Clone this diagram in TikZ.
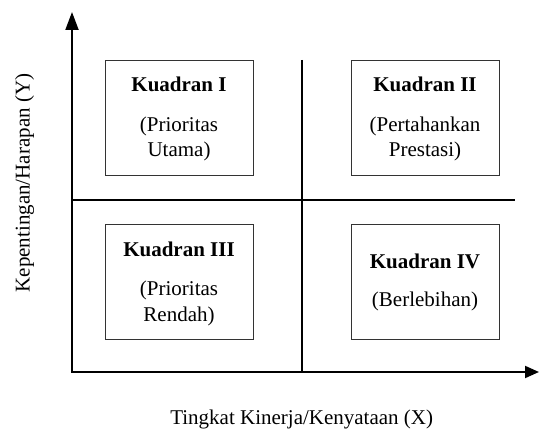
\documentclass[tikz,border=0pt]{standalone}
\usepackage{fontspec}
\setmainfont{Liberation Serif}
\usetikzlibrary{arrows.meta}
\begin{document}
\begin{tikzpicture}[x=1pt,y=-1pt,
  quadbox/.style={draw=black!80, line width=0.9pt, minimum width=148pt, minimum height=115pt, inner sep=0pt, anchor=north west},
  qtitle/.style={anchor=base, font=\fontsize{21}{25}\selectfont\bfseries, inner sep=0pt},
  qtext/.style={anchor=base, font=\fontsize{21}{25}\selectfont, inner sep=0pt},
  axes/.style={line width=2pt, {Triangle[length=18pt,width=13pt]}-{Triangle[length=14pt,width=12pt]}},
  divider/.style={line width=2pt},
  axlabel/.style={font=\fontsize{21}{25}\selectfont, inner sep=0pt}]
\useasboundingbox (0,0) rectangle (539,430);
% quadrant boxes
\node[quadbox] (b1) at (105,60) {};
\node[quadbox] (b2) at (351,60) {};
\node[quadbox] (b3) at (105,224) {};
\node[quadbox] (b4) at (351,224) {};
% texts
\node[qtitle] (t1) at (179,91.7) {Kuadran I};
\node[qtext] (s1a) at (179,131.7) {(Prioritas};
\node[qtext] (s1b) at (179,157) {Utama)};
\node[qtitle] (t2) at (425,91.7) {Kuadran II};
\node[qtext] (s2a) at (425,131.7) {(Pertahankan};
\node[qtext] (s2b) at (425,157) {Prestasi)};
\node[qtitle] (t3) at (179,256.7) {Kuadran III};
\node[qtext] (s3a) at (179,296) {(Prioritas};
\node[qtext] (s3b) at (179,322) {Rendah)};
\node[qtitle] (t4) at (425,268.3) {Kuadran IV};
\node[qtext] (s4) at (425,307) {(Berlebihan)};
% axes
\coordinate (o) at (72,372);
\coordinate (ytip) at (72,12);
\coordinate (xtip) at (539,372);
\draw[axes] (ytip) -- (o) -- (xtip);
% dividers
\coordinate (hl) at (72,200);
\coordinate (hr) at (515,200);
\coordinate (vt) at (302,60);
\coordinate (vb) at (302,372);
\draw[divider] (hl) -- (hr);
\draw[divider] (vt) -- (vb);
% axis labels
\node[axlabel, rotate=90, anchor=base] (ylab) at (29.5,183) {Kepentingan/Harapan (Y)};
\node[axlabel, anchor=base] (xlab) at (301.7,424.5) {Tingkat Kinerja/Kenyataan (X)};
\end{tikzpicture}
\end{document}
